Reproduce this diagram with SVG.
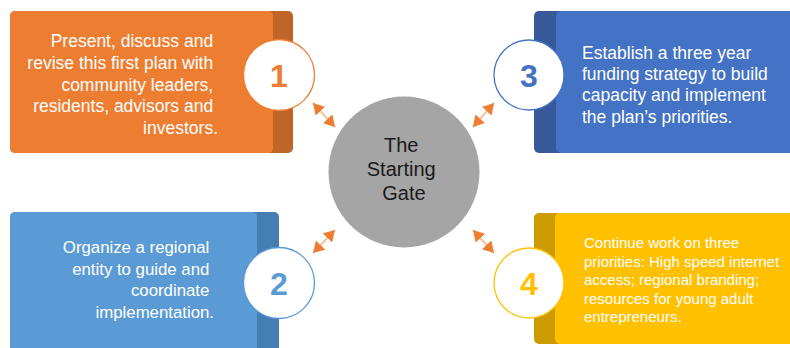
<svg xmlns="http://www.w3.org/2000/svg" width="790" height="348" viewBox="0 0 790 348">
<style>
  .t { font-family: "Liberation Sans", Arial, sans-serif; fill: #ffffff; font-size: 17.5px; }
  .t2 { font-size: 16.8px; }
  .t4 { font-size: 15px; }
  .num { font-family: "Liberation Sans", Arial, sans-serif; font-size: 32px; font-weight: bold; text-anchor: middle; }
  .ring { fill: #ffffff; stroke-width: 1.3; }
  .center { font-family: "Liberation Sans", Arial, sans-serif; font-size: 20px; fill: #1a1a1a; text-anchor: middle; }
  .arr { stroke: #f6c4a0; stroke-width: 2; fill: none; marker-start: url(#ah); marker-end: url(#ah); }
</style>
<defs>
  <marker id="ah" markerUnits="userSpaceOnUse" markerWidth="12" markerHeight="13" refX="11" refY="6.5" orient="auto-start-reverse" viewBox="0 0 12 13">
    <path d="M0,0 L11,6.5 L0,13 z" fill="#ed7d31"/>
  </marker>
</defs>
<rect width="790" height="348" fill="#ffffff"/>

<g id="node1">
  <rect x="10" y="11" width="283" height="142" rx="5" fill="#c0652a"/>
  <rect x="10" y="11" width="263" height="142" rx="5" fill="#ed7d31"/>
  <text class="t" text-anchor="end">
    <tspan x="218" y="47">Present, discuss and</tspan>
    <tspan x="218" y="69">revise this first plan with</tspan>
    <tspan x="218" y="90.5">community leaders,</tspan>
    <tspan x="218" y="112">residents, advisors and</tspan>
    <tspan x="218" y="134">investors.</tspan>
  </text>
  <circle class="ring" cx="279" cy="75" r="35.5" stroke="#ed7d31"/>
  <text class="num" x="279" y="87" fill="#ed7d31">1</text>
</g>

<g id="node2">
  <rect x="10" y="212" width="269" height="150" rx="5" fill="#467eb3"/>
  <rect x="10" y="212" width="247" height="150" rx="5" fill="#5b9bd5"/>
  <text class="t t2" text-anchor="end">
    <tspan x="214" y="253">Organize a regional</tspan>
    <tspan x="214" y="274.5">entity to guide and</tspan>
    <tspan x="214" y="296">coordinate</tspan>
    <tspan x="214" y="317.5">implementation.</tspan>
  </text>
  <circle class="ring" cx="279" cy="283" r="35.5" stroke="#5b9bd5"/>
  <text class="num" x="279" y="295" fill="#5b9bd5">2</text>
</g>

<g id="node3">
  <rect x="534" y="11" width="300" height="142" rx="5" fill="#37599a"/>
  <rect x="556" y="11" width="300" height="142" rx="5" fill="#4472c4"/>
  <text class="t">
    <tspan x="582" y="58.5">Establish a three year</tspan>
    <tspan x="582" y="80">funding strategy to build</tspan>
    <tspan x="582" y="101">capacity and implement</tspan>
    <tspan x="582" y="122.5">the plan’s priorities.</tspan>
  </text>
  <circle class="ring" cx="529" cy="75" r="35" stroke="#4472c4"/>
  <text class="num" x="529" y="87" fill="#4472c4">3</text>
</g>

<g id="node4">
  <rect x="534" y="213" width="300" height="131" rx="5" fill="#cc9b00"/>
  <rect x="555" y="213" width="300" height="131" rx="5" fill="#ffc000"/>
  <text class="t t4">
    <tspan x="584" y="248">Continue work on three</tspan>
    <tspan x="584" y="266.5">priorities: High speed internet</tspan>
    <tspan x="584" y="285">access; regional branding;</tspan>
    <tspan x="584" y="303.5">resources for young adult</tspan>
    <tspan x="584" y="321.5">entrepreneurs.</tspan>
  </text>
  <circle class="ring" cx="529" cy="283" r="35" stroke="#ffc000"/>
  <text class="num" x="529" y="295" fill="#ffc000">4</text>
</g>

<g id="center">
  <circle cx="404" cy="172" r="75.5" fill="#a5a5a5"/>
  <text class="center">
    <tspan x="404" y="152">The</tspan>
    <tspan x="404" y="176">Starting</tspan>
    <tspan x="404" y="200">Gate</tspan>
  </text>
</g>

<g id="connectors">
  <line class="arr" x1="313" y1="103" x2="335" y2="127"/>
  <line class="arr" x1="494" y1="103" x2="473" y2="127"/>
  <line class="arr" x1="313" y1="253" x2="335" y2="230"/>
  <line class="arr" x1="473" y1="230" x2="494" y2="253"/>
</g>
</svg>
